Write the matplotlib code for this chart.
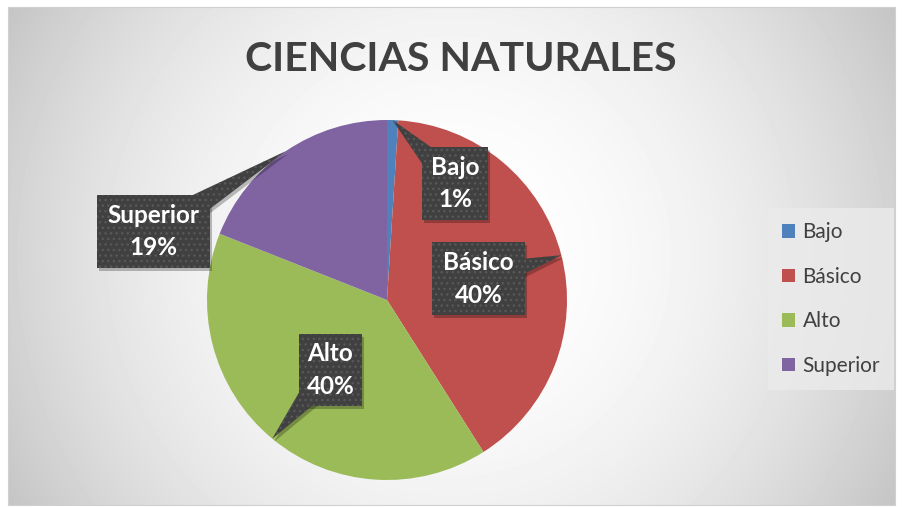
import numpy as np
import matplotlib.pyplot as plt
import matplotlib.transforms as mtransforms
from matplotlib.patches import Rectangle, Polygon

categories = ['Bajo', 'Básico', 'Alto', 'Superior']
values = [1, 40, 40, 19]
colors = ['#4f81bd', '#c0504d', '#9bbb59', '#8064a2']
title = 'CIENCIAS NATURALES'

# callout box centres / widths, in pie-radius units
label_pos = [(0.378, 0.647), (0.508, 0.117), (-0.314, -0.389), (-1.297, 0.381)]
box_w = [0.367, 0.517, 0.35, 0.628]
box_h = 0.405

plt.rcParams['font.family'] = ['Lato', 'DejaVu Sans']
plt.rcParams['hatch.color'] = '#585858'
plt.rcParams['hatch.linewidth'] = 1.0

W, H = 902, 507
fig = plt.figure(figsize=(W / 100, H / 100), dpi=100)
fig.patch.set_facecolor('white')

x0, x1, y0, y1 = 8, 895, 7, 505   # chart area, px from top-left
cx, cy, R = 387, 300, 180          # pie centre / radius, px
rect = [x0 / W, 1 - y1 / H, (x1 - x0) / W, (y1 - y0) / H]

# background radial gradient
bg = fig.add_axes(rect, zorder=0)
yy, xx = np.mgrid[y0:y1, x0:x1]
d = np.hypot(xx - 451, yy - 256) / 508
shade = 1 - 0.23 * d ** 2
bg.imshow(shade, cmap='gray', vmin=0, vmax=1, aspect='auto', interpolation='bilinear')
bg.set_xticks([])
bg.set_yticks([])
for s in bg.spines.values():
    s.set_color('#d0d0d0')

ax = fig.add_axes(rect, zorder=1)
ax.set_facecolor('none')
wedges, _ = ax.pie(values, colors=colors, startangle=90, counterclock=False,
                   radius=1, wedgeprops=dict(linewidth=0))
ax.set_xlim((x0 - cx) / R, (x1 - cx) / R)
ax.set_ylim(-(y1 - cy) / R, (cy - y0) / R)
ax.set_aspect('auto')
ax.axis('off')

shadow_tr = ax.transData + mtransforms.ScaledTranslation(2 / 100, -3 / 100, fig.dpi_scale_trans)

for w, cat, v, (bx, by), bw in zip(wedges, categories, values, label_pos, box_w):
    ang = np.deg2rad((w.theta1 + w.theta2) / 2)
    tx, ty = np.cos(ang), np.sin(ang)
    dx, dy = tx - bx, ty - by
    L = np.hypot(dx, dy)
    nx, ny = -dy / L, dx / L
    hw = 0.09
    tri_pts = [(bx + nx * hw, by + ny * hw), (tx, ty), (bx - nx * hw, by - ny * hw)]
    box_xy = (bx - bw / 2, by - box_h / 2)
    # shadows
    ax.add_patch(Polygon(tri_pts, facecolor='black', alpha=0.25, lw=0, transform=shadow_tr, zorder=3))
    ax.add_patch(Rectangle(box_xy, bw, box_h, facecolor='black', alpha=0.25, lw=0, transform=shadow_tr, zorder=3))
    ax.add_patch(Polygon(tri_pts, facecolor='#404040', hatch='...', zorder=4))
    ax.add_patch(Rectangle(box_xy, bw, box_h, facecolor='#404040', hatch='...', zorder=4))
    ax.text(bx, by, f'{cat}\n{v}%', ha='center', va='center', color='white',
            fontsize=17.5, fontweight='bold', linespacing=1.5, zorder=5)

fig.text(461 / W, 1 - 60 / H, title, ha='center', va='center', fontsize=29.5,
         fontweight='bold', color='#404040')

leg = fig.legend(wedges, categories, loc='upper left', bbox_to_anchor=(768 / W, 1 - 208 / H),
                 fontsize=15, labelspacing=1.18, handlelength=0.63, handleheight=0.63,
                 handletextpad=0.35, borderpad=0.68, borderaxespad=0,
                 fancybox=False, frameon=True)
leg.get_frame().set_facecolor('#ebebeb')
leg.get_frame().set_edgecolor('none')
leg.get_frame().set_alpha(0.8)
for t in leg.get_texts():
    t.set_color('#404040')

fig.savefig('out.png', dpi=100)
